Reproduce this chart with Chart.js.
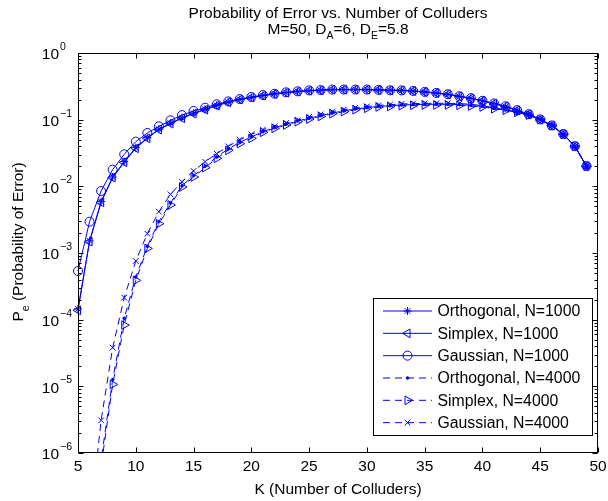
<!DOCTYPE html>
<html>
<head>
<meta charset="utf-8">
<script src="https://cdn.jsdelivr.net/npm/chart.js"></script>
<style>
  body { margin: 0; background: #fff; }
  canvas { display: block; }
</style>
</head>
<body>
<canvas id="peChart" width="608" height="501"></canvas>
<script>
// K = number of colluders
const kValues = [5, 6, 7, 8, 9, 10, 11, 12, 13, 14, 15, 16, 17, 18, 19, 20, 21, 22, 23, 24, 25, 26, 27,
  28, 29, 30, 31, 32, 33, 34, 35, 36, 37, 38, 39, 40, 41, 42, 43, 44, 45, 46, 47, 48, 49];

// N = 1000
const orthN1000 = [1.45e-4, 1.52e-3, 5.9e-3, 1.38e-2, 2.35e-2, 3.8e-2, 5.35e-2, 7.2e-2, 8.85e-2, 0.107,
  0.125, 0.143, 0.164, 0.184, 0.201, 0.215, 0.230, 0.244, 0.255, 0.264,
  0.272, 0.276, 0.282, 0.283, 0.283, 0.282, 0.279, 0.276, 0.275, 0.269,
  0.260, 0.251, 0.240, 0.224, 0.209, 0.191, 0.174, 0.158, 0.138, 0.120,
  0.100, 0.0813, 0.0603, 0.0398, 0.0200];
const simplexN1000 = [1.38e-4, 1.48e-3, 5.75e-3, 1.35e-2, 2.29e-2, 3.72e-2, 5.25e-2, 7.08e-2, 8.71e-2, 0.105,
  0.123, 0.141, 0.162, 0.182, 0.200, 0.214, 0.229, 0.243, 0.254, 0.263,
  0.272, 0.275, 0.282, 0.282, 0.282, 0.282, 0.279, 0.275, 0.275, 0.269,
  0.260, 0.251, 0.240, 0.224, 0.209, 0.191, 0.174, 0.158, 0.138, 0.120,
  0.100, 0.0813, 0.0603, 0.0398, 0.0200];
const gaussN1000 = [5.37e-4, 2.95e-3, 8.51e-3, 1.78e-2, 3.02e-2, 4.68e-2, 6.31e-2, 7.94e-2, 9.77e-2, 0.117,
  0.135, 0.151, 0.170, 0.188, 0.204, 0.219, 0.234, 0.245, 0.257, 0.266,
  0.275, 0.278, 0.283, 0.283, 0.283, 0.283, 0.280, 0.276, 0.275, 0.270,
  0.261, 0.252, 0.241, 0.225, 0.210, 0.192, 0.175, 0.159, 0.139, 0.121,
  0.101, 0.082, 0.061, 0.040, 0.0202];

// N = 4000
const orthN4000 = [null, 6.3e-9, 7.9e-7, 1.26e-5, 1.05e-4, 4.37e-4, 1.26e-3, 2.95e-3, 5.62e-3, 1.02e-2,
  1.45e-2, 2.0e-2, 2.75e-2, 3.63e-2, 4.57e-2, 5.5e-2, 6.6e-2, 7.59e-2, 8.5e-2, 9.55e-2,
  0.105, 0.115, 0.126, 0.135, 0.145, 0.151, 0.158, 0.162, 0.166, 0.168,
  0.170, 0.170, 0.170, 0.168, 0.164, 0.158, 0.148, 0.140, 0.130, 0.117,
  0.100, 0.0813, 0.0603, 0.0398, 0.0200];
const simplexN4000 = [null, 3.2e-9, 6.3e-7, 1.07e-5, 8.3e-5, 3.89e-4, 1.17e-3, 2.75e-3, 5.25e-3, 9.77e-3,
  1.38e-2, 1.91e-2, 2.63e-2, 3.47e-2, 4.37e-2, 5.25e-2, 6.46e-2, 7.41e-2, 8.32e-2, 9.33e-2,
  0.102, 0.112, 0.123, 0.132, 0.141, 0.148, 0.155, 0.158, 0.162, 0.164,
  0.166, 0.166, 0.166, 0.164, 0.160, 0.155, 0.146, 0.138, 0.129, 0.117,
  0.100, 0.0813, 0.0603, 0.0398, 0.0200];
const gaussN4000 = [null, 7.9e-8, 3.09e-6, 3.80e-5, 2.14e-4, 7.59e-4, 1.95e-3, 4.17e-3, 7.59e-3, 1.17e-2,
  1.70e-2, 2.34e-2, 3.09e-2, 3.98e-2, 5.01e-2, 6.03e-2, 7.08e-2, 7.94e-2, 8.91e-2, 9.77e-2,
  0.110, 0.120, 0.132, 0.141, 0.151, 0.158, 0.164, 0.168, 0.172, 0.174,
  0.176, 0.176, 0.176, 0.174, 0.170, 0.162, 0.151, 0.141, 0.132, 0.117,
  0.100, 0.0813, 0.0603, 0.0398, 0.0200];

const seriesLabels = ["Orthogonal, N=1000", "Simplex, N=1000", "Gaussian, N=1000",
  "Orthogonal, N=4000", "Simplex, N=4000", "Gaussian, N=4000"];

const xTicks = [5, 10, 15, 20, 25, 30, 35, 40, 45, 50];
const yDecades = [0, -1, -2, -3, -4, -5, -6];

const BLUE = "#0000ff";
const FONT = '"Liberation Sans", Arial, Helvetica, sans-serif';
const BIG = "15.5px " + FONT, SMALL = "10.5px " + FONT;

function toPoints(values) {
  return kValues.map((k, i) => ({ x: k, y: values[i] }));
}

function makeSet(label, values, style, dashed) {
  return {
    label,
    data: toPoints(values),
    borderColor: BLUE,
    borderWidth: 1,
    borderDash: dashed ? [7, 5] : [],
    pointStyle: style.shape,
    pointRotation: style.rot || 0,
    pointRadius: style.r,
    pointBorderWidth: 1,
    pointBorderColor: BLUE,
    pointBackgroundColor: style.fill ? BLUE : "rgba(0,0,0,0)",
    tension: 0,
    clip: { left: 10, right: 10, top: 10, bottom: 0 }
  };
}

// text pieces with sub/superscripts, centred on cx
function drawSegments(ctx, segs, cx, cy) {
  let total = 0;
  segs.forEach(s => { ctx.font = s[1] === "n" ? BIG : SMALL; total += ctx.measureText(s[0]).width; });
  let x = cx - total / 2;
  ctx.textAlign = "left";
  ctx.textBaseline = "middle";
  segs.forEach(s => {
    ctx.font = s[1] === "n" ? BIG : SMALL;
    const dy = s[1] === "sub" ? 7 : (s[1] === "sup" ? -7 : 0);
    ctx.fillText(s[0], x, cy + dy);
    x += ctx.measureText(s[0]).width;
  });
}

function drawMarker(ctx, ds, x, y) {
  ctx.save();
  ctx.setLineDash([]);
  ctx.strokeStyle = BLUE;
  ctx.fillStyle = ds.pointBackgroundColor;
  ctx.lineWidth = 1;
  Chart.helpers.drawPoint(ctx, {
    pointStyle: ds.pointStyle, rotation: ds.pointRotation,
    radius: ds.pointRadius, borderWidth: 1
  }, x, y);
  ctx.restore();
}

const matlabAxes = {
  id: "matlabAxes",
  afterDraw(chart) {
    const { ctx, chartArea: a, scales: { x, y } } = chart;
    const L = Math.round(a.left) + 0.5, R = Math.round(a.right) - 0.5;
    const T = Math.round(a.top) + 0.5, B = Math.round(a.bottom) - 0.5;
    ctx.save();
    ctx.strokeStyle = "#000";
    ctx.lineWidth = 1;
    ctx.setLineDash([]);
    ctx.strokeRect(L, T, R - L, B - T);

    ctx.beginPath();
    xTicks.forEach(v => {
      const px = Math.round(x.getPixelForValue(v)) + 0.5;
      ctx.moveTo(px, B); ctx.lineTo(px, B - 5);
      ctx.moveTo(px, T); ctx.lineTo(px, T + 5);
    });
    yDecades.forEach(e => {
      for (let m = 1; m <= 9; m++) {
        const v = m * Math.pow(10, e);
        if (v > 1 || v < 1e-6) continue;
        const py = Math.round(y.getPixelForValue(v)) + 0.5;
        const len = m === 1 ? 5 : 3;
        ctx.moveTo(L, py); ctx.lineTo(L + len, py);
        ctx.moveTo(R, py); ctx.lineTo(R - len, py);
      }
    });
    ctx.stroke();

    ctx.fillStyle = "#000";
    ctx.font = BIG;
    ctx.textAlign = "center";
    ctx.textBaseline = "middle";
    xTicks.forEach(v => ctx.fillText(String(v), x.getPixelForValue(v), a.bottom + 14));

    yDecades.forEach(e => {
      const py = y.getPixelForValue(Math.pow(10, e));
      ctx.font = BIG;
      ctx.textAlign = "right";
      ctx.textBaseline = "middle";
      ctx.fillText("10", a.left - 19, py + 2);
      ctx.font = SMALL;
      ctx.textAlign = "left";
      ctx.fillText(e === 0 ? "0" : "\u2212" + (-e), a.left - 18, py - 6);
    });

    const cx = (a.left + a.right) / 2;
    drawSegments(ctx, [["Probability of Error vs. Number of Colluders", "n"]], cx, 14);
    drawSegments(ctx, [["M=50, D", "n"], ["A", "sub"], ["=6, D", "n"], ["E", "sub"], ["=5.8", "n"]], cx, 29.5);
    drawSegments(ctx, [["K (Number of Colluders)", "n"]], cx, a.bottom + 37);

    ctx.save();
    ctx.translate(19, 242);
    ctx.rotate(-Math.PI / 2);
    drawSegments(ctx, [["P", "n"], ["e", "sub"], [" (Probability of Error)", "n"]], 0, 0);
    ctx.restore();

    // legend box
    const bx = 373.5, by = 298.5, bw = 219, bh = 137;
    ctx.fillStyle = "#fff";
    ctx.fillRect(bx, by, bw, bh);
    ctx.strokeStyle = "#000";
    ctx.strokeRect(bx, by, bw, bh);
    chart.data.datasets.forEach((ds, i) => {
      const ry = 311 + i * 22.33;
      ctx.save();
      ctx.strokeStyle = BLUE;
      ctx.lineWidth = 1;
      ctx.setLineDash(ds.borderDash);
      ctx.beginPath();
      ctx.moveTo(383, ry); ctx.lineTo(432, ry);
      ctx.stroke();
      ctx.restore();
      drawMarker(ctx, ds, 407.5, ry);
      ctx.fillStyle = "#000";
      ctx.font = "15.8px " + FONT;
      ctx.textAlign = "left";
      ctx.textBaseline = "middle";
      ctx.fillText(ds.label, 437.5, ry + 1);
    });
    ctx.restore();
  }
};

new Chart(document.getElementById("peChart").getContext("2d"), {
  type: "line",
  data: {
    datasets: [
      makeSet(seriesLabels[0], orthN1000, { shape: "star", r: 4 }, false),
      makeSet(seriesLabels[1], simplexN1000, { shape: "triangle", rot: -90, r: 5 }, false),
      makeSet(seriesLabels[2], gaussN1000, { shape: "circle", r: 4.5 }, false),
      makeSet(seriesLabels[3], orthN4000, { shape: "circle", r: 1.3, fill: true }, true),
      makeSet(seriesLabels[4], simplexN4000, { shape: "triangle", rot: 90, r: 5 }, true),
      makeSet(seriesLabels[5], gaussN4000, { shape: "crossRot", r: 4 }, true)
    ]
  },
  options: {
    responsive: false,
    animation: false,
    layout: { padding: { left: 78, right: 10, top: 53, bottom: 48 } },
    scales: {
      x: { type: "linear", min: 5, max: 50, display: false },
      y: { type: "logarithmic", min: 1e-6, max: 1, display: false }
    },
    plugins: {
      legend: { display: false },
      tooltip: { enabled: false }
    }
  },
  plugins: [matlabAxes]
});
</script>
</body>
</html>
